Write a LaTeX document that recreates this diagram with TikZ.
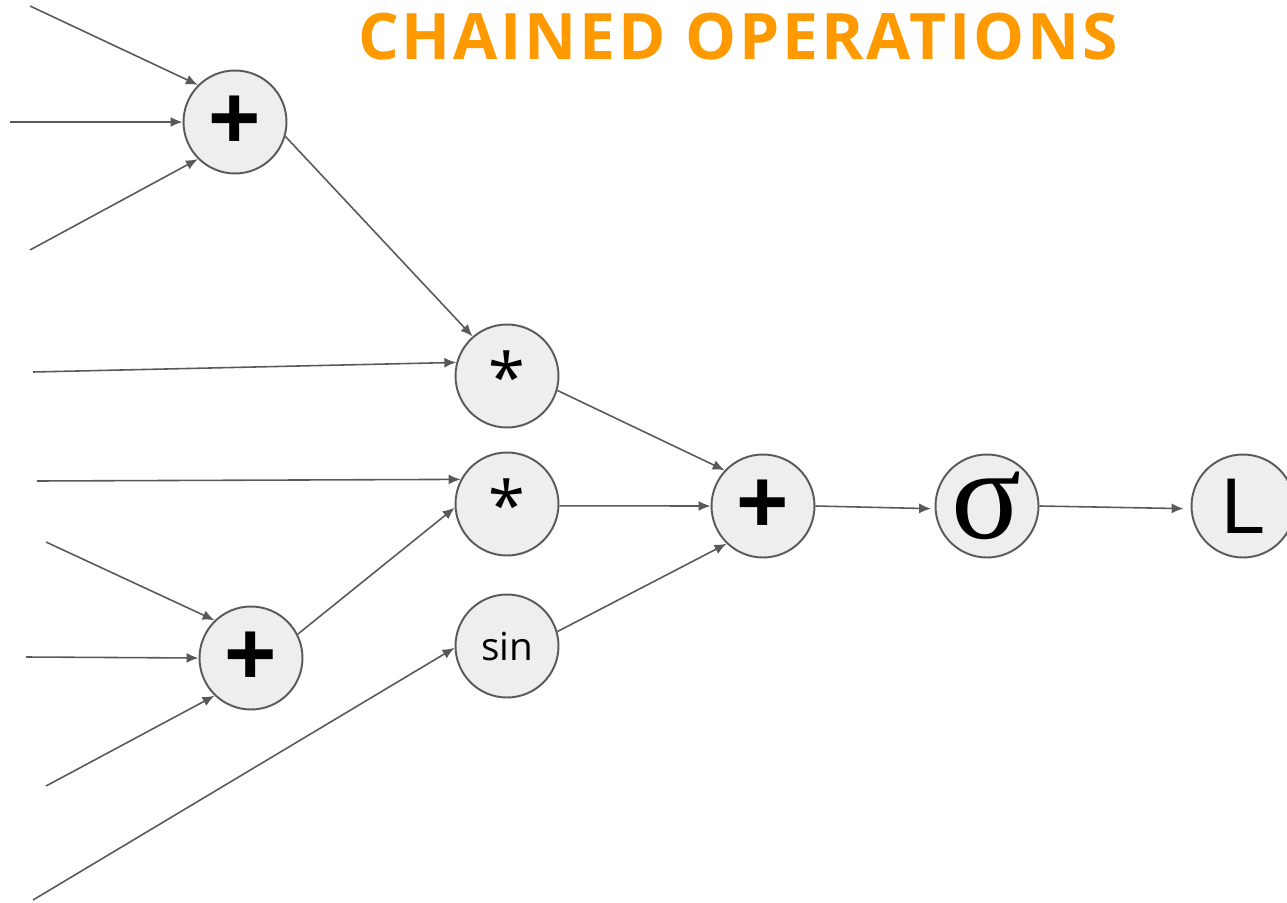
\documentclass[tikz,border=0pt]{standalone}
\usepackage{fontspec}
\setmainfont{Open Sans}
\newfontfamily\serifsig{Liberation Serif}
\newfontfamily\opsans{Liberation Sans}
\newfontfamily\titlefont[LetterSpace=4.5]{Open Sans}
\usepackage{xcolor}
\usetikzlibrary{positioning,arrows.meta}
\definecolor{opfill}{RGB}{238,238,238}
\definecolor{opline}{RGB}{89,89,89}
\definecolor{titleorange}{RGB}{255,153,0}
\tikzset{
  opnode/.style={circle, draw=opline, line width=1.1pt, fill=opfill,
                 minimum size=2.06cm, inner sep=0pt, align=center},
  plusnode/.style={opnode, font=\opsans\bfseries\fontsize{51}{55}\selectfont},
  arrow/.style={-{Latex[length=2.4mm,width=2mm]}, draw=opline, line width=0.9pt},
}

\begin{document}
\begin{tikzpicture}[x=0.02cm,y=-0.02cm]
  \useasboundingbox (0,0) rectangle (1287,902);
  \node[font=\titlefont\bfseries\fontsize{36.5}{40}\selectfont, text=titleorange] (title) at (738,37) {CHAINED OPERATIONS};

  % operation nodes
  \node[plusnode] (plusA) at (235,122) {+};
  \node[opnode, font=\fontsize{38}{40}\selectfont] (mulA)  at (507,376) {*};
  \node[opnode, font=\fontsize{38}{40}\selectfont] (mulB)  at (507,504) {*};
  \node[opnode, font=\fontsize{22}{24}\selectfont] (sinA)  at (507,646) {sin};
  \node[plusnode] (plusB) at (251,658) {+};
  \node[plusnode] (plusC) at (763,506) {+};
  \node[opnode, font=\serifsig\fontsize{74}{80}\selectfont] (sig) at (987,506) {σ};
  \node[opnode, font=\opsans\fontsize{45}{50}\selectfont] (loss) at (1243,506) {L};

  % free input ends
  \coordinate (inA1) at (30,6);
  \coordinate (inA2) at (10,122);
  \coordinate (inA3) at (30,250);
  \coordinate (inM1) at (33,372);
  \coordinate (inM2) at (37,481);
  \coordinate (inB1) at (46,542);
  \coordinate (inB2) at (26,657);
  \coordinate (inB3) at (46,786);
  \coordinate (inS)  at (33,900);

  \draw[arrow] (inA1) -- (plusA.135);
  \draw[arrow] (inA2) -- (plusA.west);
  \draw[arrow] (inA3) -- (plusA.225);
  \draw[arrow] (plusA.-16) -- (mulA.131);
  \draw[arrow] (inM1) -- (mulA.165);
  \draw[arrow] (inM2) -- (mulB.152);
  \draw[arrow] (inB1) -- (plusB.134);
  \draw[arrow] (inB2) -- (plusB.west);
  \draw[arrow] (inB3) -- (plusB.226);
  \draw[arrow] (plusB.27) -- (mulB.184);
  \draw[arrow] (inS) -- (sinA.182);
  \draw[arrow] (mulA.-16) -- (plusC.137);
  \draw[arrow] (mulB.-2) -- (plusC.west);
  \draw[arrow] (sinA.16) -- (plusC.226);
  \draw[arrow, shorten >=2pt] (plusC.east) -- (sig.183);
  \draw[arrow, shorten >=4pt] (sig.east) -- (loss.183);
\end{tikzpicture}
\end{document}
